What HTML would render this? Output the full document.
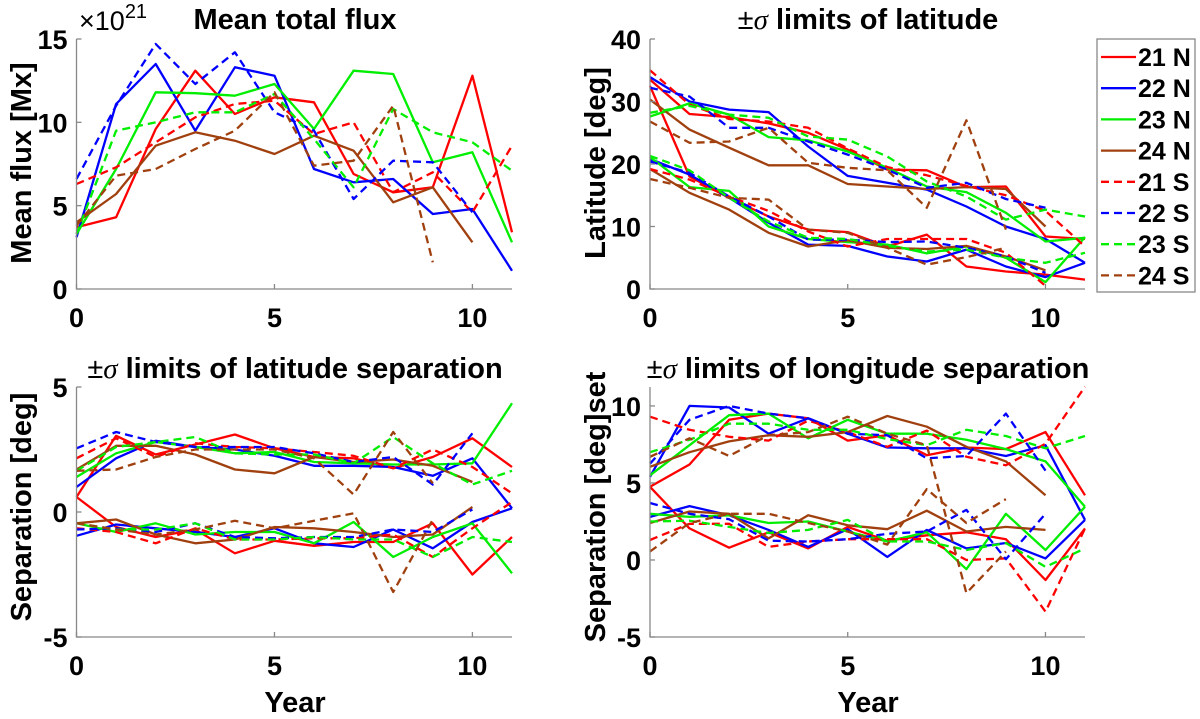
<!DOCTYPE html>
<html><head><meta charset="utf-8"><style>
body{margin:0;background:#fff;}
svg{display:block;font-family:"Liberation Sans",sans-serif;font-weight:bold;}
</style></head><body>
<svg id="fig" width="1200" height="719" viewBox="0 0 1200 719" xmlns="http://www.w3.org/2000/svg"></svg>
<script>
const years = [0,1,2,3,4,5,6,7,8,9,10,11];
const seriesKeys = ['21N','22N','23N','24N','21S','22S','23S','24S'];
const seriesLabels = ['21 N','22 N','23 N','24 N','21 S','22 S','23 S','24 S'];
const xTicks = [0,5,10];
// Panel 1: mean flux (x1e21 Mx)
const flux21N = [3.7,4.3,9.6,13.1,10.5,11.5,11.2,6.9,5.8,6.1,12.8,3.4];
const flux22N = [3.1,11.1,13.5,9.5,13.3,12.8,7.2,6.4,6.6,4.5,4.8,1.1];
const flux23N = [3.3,7.2,11.8,11.75,11.6,12.3,9.6,13.1,12.9,7.6,8.2,2.8];
const flux24N = [4.0,5.7,8.6,9.4,8.9,8.1,9.2,8.3,5.2,6.1,2.8,null];
const flux21S = [6.3,7.3,8.8,10.3,11.1,11.3,9.3,10.0,5.8,7.0,4.6,8.6];
const flux22S = [6.6,11.0,14.7,12.3,14.2,10.6,9.5,5.4,7.7,7.6,4.6,null];
const flux23S = [3.3,9.5,10.0,10.6,10.6,11.7,9.0,6.1,10.8,9.4,8.8,7.1];
const flux24S = [3.8,6.8,7.2,8.4,9.5,11.8,7.4,7.7,11.0,1.6,null,null];
const fluxTicks = [0,5,10,15];
// Panel 2: latitude limits
const lat21N_hi = [33.5,28,27.5,26.5,25,22.3,19.1,19,16.3,16.4,8.4,8.0];
const lat21N_lo = [32.5,18,14.6,11.6,9.5,9.1,6.8,8.7,3.6,2.8,2.3,1.5];
const lat22N_hi = [33.9,30,28.7,28.3,22.8,18.1,17,15.9,13.2,10,8,4.2];
const lat22N_lo = [20.8,18.3,14.6,10.6,7.1,6.9,5.2,4.4,6.3,3.6,1.9,4.2];
const lat23N_hi = [27.6,29.7,27.9,24.3,23.8,22,19.4,16.4,15.5,12.2,7.6,8.2];
const lat23N_lo = [21.1,16.3,15.7,10,8,7.5,7.1,5.7,6.8,5,1.1,8.3];
const lat24N_hi = [30.3,25.5,22.6,19.8,19.8,16.8,16.4,16,16.3,16,10,null];
const lat24N_lo = [19.2,15.4,12.7,9,6.8,7.8,6.6,6.4,6.9,5.2,3,null];
const lat21S_hi = [35,29.5,27.2,26.8,25.8,22.5,19.5,18.2,16.5,15,12.5,6.8];
const lat21S_lo = [19.2,17.5,14.8,12.5,9.2,6.8,8,8,8,5.8,0.5,null];
const lat22S_hi = [32.2,30.8,25.8,25.8,23.6,21.5,19.1,16.2,17,14.4,13,null];
const lat22S_lo = [20.4,18.6,14.8,11.6,7.9,7.9,7.5,7.6,6.6,5.2,2.6,null];
const lat23S_hi = [28.2,29.3,27.9,27.4,24.4,23.9,21.2,17.2,14.8,11.1,12.7,11.6];
const lat23S_lo = [21.3,19,14.6,10.8,8.2,8,6.9,6,6.3,5,4.2,5.8];
const lat24S_hi = [26.8,23.4,23.6,25.8,20.2,19.4,19,13,27,9.5,null,null];
const lat24S_lo = [17.6,16.2,14.6,14.3,9.5,9,6.6,3.9,5.1,6.6,null,null];
const latTicks = [0,10,20,30,40];
// Panel 3: latitude separation limits
const lsep21N_hi = [0.6,3.05,2.3,2.7,3.1,2.55,2.2,2.15,1.75,2.2,2.95,1.8];
const lsep21N_lo = [0.6,-0.6,-1,-0.7,-1.65,-1.15,-1.35,-1.2,-1.2,-0.45,-2.5,-1];
const lsep22N_hi = [1,2.15,2.85,2.6,2.5,2.25,1.85,1.85,1.8,1.45,2.15,0.15];
const lsep22N_lo = [-0.95,-0.5,-0.65,-0.8,-1,-0.65,-1.25,-1.4,-0.7,-1.45,-0.4,0.15];
const lsep23N_hi = [1.4,2.35,2.8,2.6,2.35,2.4,2,1.95,1.9,1.9,1.95,4.35];
const lsep23N_lo = [-0.45,-0.8,-0.45,-0.9,-0.8,-0.8,-1.25,-0.4,-1.8,-1,-0.45,-2.45];
const lsep24N_hi = [1.7,2.65,2.65,2.3,1.7,1.55,2.2,2,2.1,1.85,1.2,null];
const lsep24N_lo = [-0.45,-0.3,-0.9,-1.25,-1.1,-0.6,-0.65,-0.8,-1,-0.9,0.2,null];
const lsep21S_hi = [2.15,2.95,2.2,2.75,2.6,2.55,2.4,2.25,1.75,2.5,1.8,0.75];
const lsep21S_lo = [-0.65,-0.8,-1.25,-0.65,-1.1,-1.1,-1.05,-1.05,-0.9,-1.8,-0.65,0.4];
const lsep22S_hi = [2.55,3.2,2.8,2.6,2.6,2.6,2.35,2,2.2,1.1,3.15,null];
const lsep22S_lo = [-0.7,-0.65,-0.8,-0.45,-1,-1.05,-1,-1,-0.7,-0.8,0.1,null];
const lsep23S_hi = [1.65,2.6,2.8,3,2.35,2.3,2.3,1.95,3,1.95,1.1,1.65];
const lsep23S_lo = [-0.45,-0.7,-0.7,-0.45,-1.1,-1.1,-1,-1.1,-1.1,-1.8,-1,-1.2];
const lsep24S_hi = [1.65,1.7,2.2,2.5,2.5,2.5,2.15,0.7,3.2,1.15,null,null];
const lsep24S_lo = [-0.45,-0.7,-0.9,-0.7,-0.35,-0.65,-0.35,-0.05,-3.2,-0.3,null,null];
const lsepTicks = [-5,0,5];
// Panel 4: longitude separation limits
const gsep21N_hi = [4.75,6.2,9.1,9.5,9.2,7.75,8.1,6.8,7.3,7.2,8.3,4.2];
const gsep21N_lo = [4.75,2.05,0.8,1.8,0.75,2.15,1.25,1.6,1.8,1.35,-1.3,2.05];
const gsep22N_hi = [5.4,10,9.9,8.2,9.2,8.2,7.3,7.25,7.25,6.75,7.45,2.6];
const gsep22N_lo = [2.8,3.5,2.9,1.95,0.85,2,0.2,1.95,0.75,1.1,0.1,2.6];
const gsep23N_hi = [5.5,7.45,9.4,9.5,7.9,9.1,8.2,8.2,7.8,7.2,6.4,3.45];
const gsep23N_lo = [3,2.8,2.9,2.4,2.5,1.85,1.2,1.8,-0.6,3,0.65,3.45];
const gsep24N_hi = [6.05,7,7.7,8.1,8,8.3,9.35,8.65,7.35,6.4,4.2,null];
const gsep24N_lo = [2.4,3.15,3,1.4,2.9,2.25,2,3.2,1.85,2.15,1.95,null];
const gsep21S_hi = [9.3,8.45,8,7.75,9.05,8.3,7.35,8.4,6.7,6.15,7.55,11.25];
const gsep21S_lo = [1.3,2.35,2.35,0.85,1.2,1.35,1.35,1.35,0,0.1,-3.35,2.05];
const gsep22S_hi = [6.25,9.1,10,9.5,9.2,8.2,8.1,6.6,6.75,9.5,5.8,null];
const gsep22S_lo = [3.7,3,2.65,1.25,1.2,1.35,1.7,1.85,3.25,0.05,3,null];
const gsep23S_hi = [7,7.8,8.85,8.85,8.45,8.45,7.85,7.45,8.45,8.05,7.25,8.05];
const gsep23S_lo = [2.5,2.55,2.15,1.75,1.95,2.6,1.2,1.2,0.65,1.1,-0.45,0.75];
const gsep24S_hi = [6.7,7.9,6.75,8.1,8.3,9.3,8.2,7.45,-2.15,0.55,null,null];
const gsep24S_lo = [0.55,2.4,3,3,2.4,1.85,1,4.6,2.4,3.95,null,null];
const gsepTicks = [-5,0,5,10];

const colors = {'21':'#ff0000','22':'#0000ff','23':'#00ee00','24':'#a0400f'};
const NS='http://www.w3.org/2000/svg';
const svg=document.getElementById('fig');
function mk(tag,attrs,parent){const e=document.createElementNS(NS,tag);for(const k in attrs)e.setAttribute(k,attrs[k]);(parent||svg).appendChild(e);return e;}

function panel(cfg){
  const g=mk('g',{});
  
  
  const xs=v=>cfg.x0+(v-0)/11*(cfg.x1-cfg.x0);
  const ys=v=>cfg.yb-(v-cfg.ymin)/(cfg.ymax-cfg.ymin)*(cfg.yb-cfg.yt);
  cfg.series.forEach(s=>{
    s.arrs.forEach(arr=>{
      let d='';let pen=false;
      arr.forEach((v,i)=>{if(v===null){pen=false;return;}d+=(pen?'L':'M')+xs(years[i]).toFixed(1)+','+ys(v).toFixed(1);pen=true;});
      const p=mk('path',{d:d,fill:'none',stroke:colors[s.key.slice(0,2)],'stroke-width':2.3,'stroke-linejoin':'round'},g);
      if(s.key.endsWith('S'))p.setAttribute('stroke-dasharray','8,5');
      
      
    });
  });
  const ax=mk('path',{d:`M${cfg.x0},${cfg.yt}L${cfg.x0},${cfg.yb}L${cfg.x1},${cfg.yb}`,fill:'none',stroke:'#888','stroke-width':1.3},g);
  
  
  xTicks.forEach(t=>{
    const x=xs(t);
    mk('line',{x1:x,x2:x,y1:cfg.yb,y2:cfg.yb-5,stroke:'#888','stroke-width':1.3},g);
    const tx=mk('text',{x:x,y:cfg.yb+38,'font-size':27,'text-anchor':'middle'},g);
    tx.textContent=t;
    
    
  });
  cfg.yticks.forEach(t=>{
    const y=ys(t);
    mk('line',{x1:cfg.x0,x2:cfg.x0+5,y1:y,y2:y,stroke:'#888','stroke-width':1.3},g);
    const tx=mk('text',{x:cfg.x0-9,y:y+10,'font-size':27,'text-anchor':'end'},g);
    tx.textContent=t;
    
    
  });
  const ti=mk('text',{x:cfg.tx,y:cfg.ty,'font-size':29,'text-anchor':'middle'},g);
  ti.innerHTML=cfg.title;
  
  
  const yl=mk('text',{x:0,y:0,'font-size':29,'text-anchor':'middle',transform:`translate(${cfg.ylx},${cfg.yly}) rotate(-90)`},g);
  yl.textContent=cfg.ylabel;
  
  
  if(cfg.xlabel){
    const xl=mk('text',{x:cfg.tx,y:cfg.yb+75,'font-size':29,'text-anchor':'middle'},g);
    xl.textContent=cfg.xlabel;
    
    
  }
}
function S(a,b,c,d,e,f,g,h){return seriesKeys.map((k,i)=>({key:k,arrs:[a,b,c,d,e,f,g,h][i]}));}
const sig='<tspan font-weight="normal">±</tspan><tspan font-family="Liberation Serif" font-style="italic" font-weight="normal">σ</tspan>';

panel({name:'mean-flux-panel',x0:76.5,x1:512,yt:39,yb:289,ymin:0,ymax:15,yticks:fluxTicks,
  title:'Mean total flux',tx:295,ty:29,ylabel:'Mean flux [Mx]',ylx:31,yly:163,
  series:S([flux21N],[flux22N],[flux23N],[flux24N],[flux21S],[flux22S],[flux23S],[flux24S])});
panel({name:'latitude-panel',x0:650,x1:1085,yt:39,yb:289,ymin:0,ymax:40,yticks:latTicks,
  title:sig+' limits of latitude',tx:868,ty:29,ylabel:'Latitude [deg]',ylx:605,yly:163,
  series:S([lat21N_hi,lat21N_lo],[lat22N_hi,lat22N_lo],[lat23N_hi,lat23N_lo],[lat24N_hi,lat24N_lo],[lat21S_hi,lat21S_lo],[lat22S_hi,lat22S_lo],[lat23S_hi,lat23S_lo],[lat24S_hi,lat24S_lo])});
panel({name:'latitude-separation-panel',x0:76.5,x1:512,yt:387,yb:637,ymin:-5,ymax:5,yticks:lsepTicks,
  title:sig+' limits of latitude separation',tx:295,ty:378,ylabel:'Separation [deg]',ylx:31,yly:507,xlabel:'Year',
  series:S([lsep21N_hi,lsep21N_lo],[lsep22N_hi,lsep22N_lo],[lsep23N_hi,lsep23N_lo],[lsep24N_hi,lsep24N_lo],[lsep21S_hi,lsep21S_lo],[lsep22S_hi,lsep22S_lo],[lsep23S_hi,lsep23S_lo],[lsep24S_hi,lsep24S_lo])});
panel({name:'longitude-separation-panel',x0:650,x1:1085,yt:387,yb:637,ymin:-5,ymax:11.23,yticks:gsepTicks,
  title:sig+' limits of longitude separation',tx:868,ty:378,ylabel:'Separation [deg]set',ylx:605,yly:507,xlabel:'Year',
  series:S([gsep21N_hi,gsep21N_lo],[gsep22N_hi,gsep22N_lo],[gsep23N_hi,gsep23N_lo],[gsep24N_hi,gsep24N_lo],[gsep21S_hi,gsep21S_lo],[gsep22S_hi,gsep22S_lo],[gsep23S_hi,gsep23S_lo],[gsep24S_hi,gsep24S_lo])});

const ex=mk('text',{x:79,y:30,'font-size':27,'font-weight':'normal'});
ex.innerHTML='×10<tspan dy="-12" font-size="20">21</tspan>';



const lg=mk('g',{});


mk('rect',{x:1097,y:39,width:98,height:253,fill:'#fff',stroke:'#888','stroke-width':1.3},lg);
seriesKeys.forEach((k,i)=>{
  const y=57+i*31.2;
  const e=mk('g',{},lg);
  
  
  const l=mk('line',{x1:1101,x2:1136,y1:y,y2:y,stroke:colors[k.slice(0,2)],'stroke-width':2.3},e);
  if(k.endsWith('S'))l.setAttribute('stroke-dasharray','8,5');
  const t=mk('text',{x:1138,y:y+9,'font-size':25},e);
  t.textContent=seriesLabels[i];
});
</script>
</body></html>
